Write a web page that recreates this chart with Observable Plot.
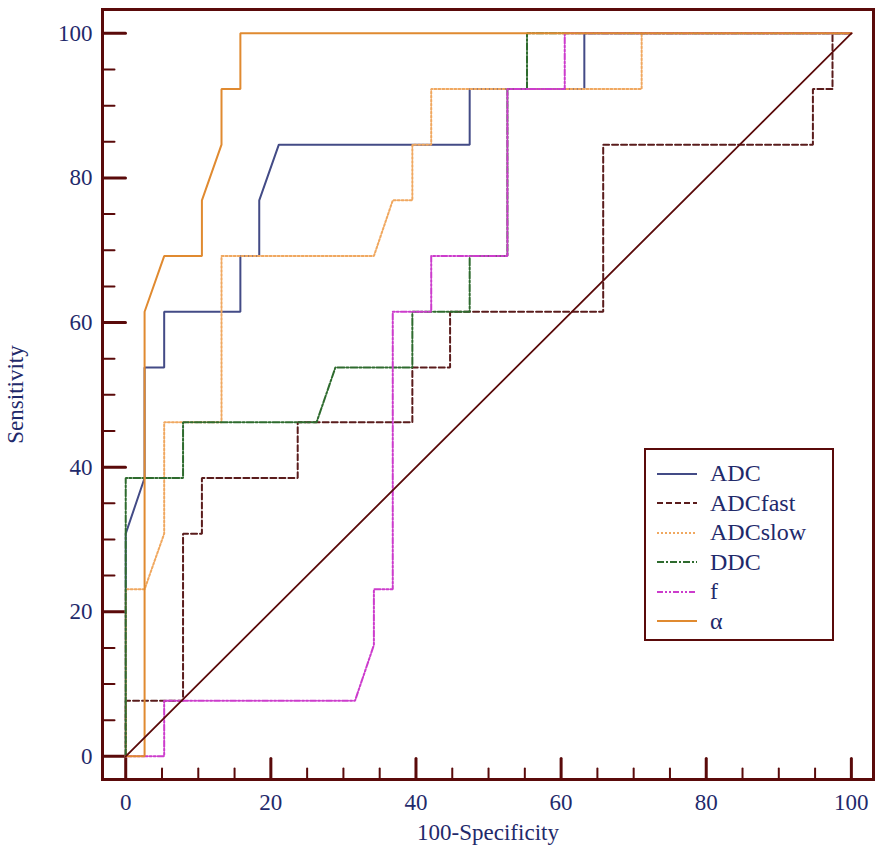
<!DOCTYPE html>
<html>
<head>
<meta charset="utf-8">
<script src="https://cdn.jsdelivr.net/npm/d3@7"></script>
<script src="https://cdn.jsdelivr.net/npm/@observablehq/plot@0.6"></script>
<style>
  html, body { margin: 0; padding: 0; background: #fff; }
  #wrap { position: relative; width: 886px; height: 858px; }
  #legend { position: absolute; left: 644px; top: 448px; width: 186px; height: 189px;
    border: 2.5px solid #5a0a0a; background: #fff; font-family: "Liberation Serif", "DejaVu Serif", serif;
    font-size: 24px; color: #1f2a6b; box-sizing: content-box; }
  .row { position: absolute; left: 0; height: 29px; display: flex; align-items: center; }
  .row svg { margin-left: 11px; }
  .row span { margin-left: 13px; line-height: 29px; }
</style>
</head>
<body>
<div id="wrap"><div id="chart"></div><div id="legend"></div></div>
<script>
// ---- data ----
const names = ["ADC", "ADCfast", "ADCslow", "DDC", "f", "α"];
const colors = ["#434b86", "#5a1c1c", "#f0a860", "#2e6b2e", "#cc3ccc", "#e08a30"];
const dashes = ["none", "6,3", "2,2", "7,2,2,2", "6,2,2,2,2,2", "none"];

const adcX = [0, 0, 2.6, 2.6, 5.3, 5.3, 15.8, 15.8, 18.4, 18.4, 21.1, 47.4, 47.4, 63.2, 63.2, 100];
const adcY = [0, 30.8, 38.5, 53.8, 53.8, 61.5, 61.5, 69.2, 69.2, 76.9, 84.6, 84.6, 92.3, 92.3, 100, 100];

const fastX = [0, 0, 7.9, 7.9, 10.5, 10.5, 23.7, 23.7, 39.5, 39.5, 44.7, 44.7, 65.8, 65.8, 94.7, 94.7, 97.4, 97.4, 100];
const fastY = [0, 7.7, 7.7, 30.8, 30.8, 38.5, 38.5, 46.2, 46.2, 53.8, 53.8, 61.5, 61.5, 84.6, 84.6, 92.3, 92.3, 100, 100];

const slowX = [0, 0, 2.6, 5.3, 5.3, 13.2, 13.2, 34.2, 36.8, 39.5, 39.5, 42.1, 42.1, 71.1, 71.1, 100];
const slowY = [0, 23.1, 23.1, 30.8, 46.2, 46.2, 69.2, 69.2, 76.9, 76.9, 84.6, 84.6, 92.3, 92.3, 100, 100];

const ddcX = [0, 0, 7.9, 7.9, 26.3, 28.9, 39.5, 39.5, 47.4, 47.4, 52.6, 52.6, 55.3, 55.3, 100];
const ddcY = [0, 38.5, 38.5, 46.2, 46.2, 53.8, 53.8, 61.5, 61.5, 69.2, 69.2, 92.3, 92.3, 100, 100];

const fX = [0, 5.3, 5.3, 31.6, 34.2, 34.2, 36.8, 36.8, 42.1, 42.1, 52.6, 52.6, 60.5, 60.5, 100];
const fY = [0, 0, 7.7, 7.7, 15.4, 23.1, 23.1, 61.5, 61.5, 69.2, 69.2, 92.3, 92.3, 100, 100];

const alphaX = [0, 2.6, 2.6, 5.3, 10.5, 10.5, 13.2, 13.2, 15.8, 15.8, 100];
const alphaY = [0, 0, 61.5, 69.2, 69.2, 76.9, 84.6, 92.3, 92.3, 100, 100];

const refX = [0, 100];
const refY = [0, 100];

const majorTicks = [0, 20, 40, 60, 80, 100];
const minorTicks = [5, 10, 15, 25, 30, 35, 45, 50, 55, 65, 70, 75, 85, 90, 95];

// ---- build ----
const seriesX = [adcX, fastX, slowX, ddcX, fX, alphaX];
const seriesY = [adcY, fastY, slowY, ddcY, fY, alphaY];
const maroon = "#5a0a0a";
const navy = "#1f2a6b";
const serif = '"Liberation Serif", "DejaVu Serif", serif';

const lineMarks = names.map((n, i) => {
  const pts = seriesX[i].map((x, j) => ({x, y: seriesY[i][j]}));
  return Plot.line(pts, {x: "x", y: "y", stroke: colors[i], strokeWidth: 2,
    strokeDasharray: dashes[i] === "none" ? null : dashes[i], strokeLinejoin: "miter"});
});
const refPts = refX.map((x, j) => ({x, y: refY[j]}));

// straight tick shape for vector marks (points "up" before rotation)
const tickShape = {draw(context, l) { context.moveTo(0, 0); context.lineTo(0, -l); }};
const inwardY = (data, len, w) => Plot.vector(data, {y: d => d, frameAnchor: "left", rotate: 90,
  length: len, anchor: "start", shape: tickShape, stroke: maroon, strokeWidth: w});
const inwardX = (data, len, w) => Plot.vector(data, {x: d => d, frameAnchor: "bottom", rotate: 0,
  length: len, anchor: "start", shape: tickShape, stroke: maroon, strokeWidth: w});

const chart = Plot.plot({
  width: 886, height: 858,
  marginLeft: 102, marginRight: 13, marginTop: 9, marginBottom: 79,
  x: {domain: [-3.2, 103.05]},
  y: {domain: [-3.2, 103.3]},
  length: {type: "identity"},
  style: {fontFamily: serif, fontSize: "23px", background: "#fff", overflow: "visible"},
  marks: [
    inwardY(minorTicks, 12, 2),
    inwardY(majorTicks, 23, 3),
    inwardX(minorTicks, 11, 2),
    inwardX(majorTicks, 21, 3),
    Plot.axisY(majorTicks, {tickSize: 0, tickPadding: 10, fill: navy, fontSize: 23,
      label: "Sensitivity", labelAnchor: "center", labelArrow: "none", labelOffset: 96}),
    Plot.axisX(majorTicks, {tickSize: 0, tickPadding: 14, fill: navy, fontSize: 23,
      label: "100-Specificity", labelAnchor: "center", labelArrow: "none", labelOffset: 60}),
    ...lineMarks,
    Plot.line(refPts, {x: "x", y: "y", stroke: maroon, strokeWidth: 1.8}),
    Plot.frame({stroke: maroon, strokeWidth: 3})
  ]
});
document.getElementById("chart").appendChild(chart);

// legend
const legend = document.getElementById("legend");
names.forEach((n, i) => {
  const row = document.createElement("div");
  row.className = "row";
  row.style.top = (9 + i * 29.5) + "px";
  const dash = dashes[i] === "none" ? "" : `stroke-dasharray="${dashes[i]}"`;
  row.innerHTML = `<svg width="40" height="6"><line x1="0" y1="3" x2="40" y2="3" stroke="${colors[i]}" stroke-width="2" ${dash}/></svg><span>${n}</span>`;
  legend.appendChild(row);
});
</script>
</body>
</html>
